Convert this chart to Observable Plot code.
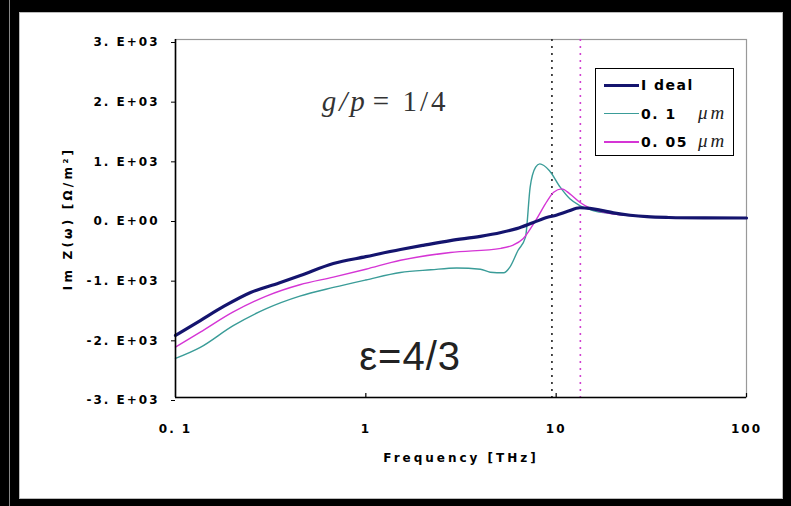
<!DOCTYPE html>
<html><head><meta charset="utf-8">
<script src="https://cdn.jsdelivr.net/npm/d3@7"></script>
<script src="https://cdn.jsdelivr.net/npm/@observablehq/plot@0.6"></script>
<style>
body{margin:0;background:#000;}
#wrap{position:relative;width:791px;height:506px;background:#000;overflow:hidden;}
#edge{position:absolute;left:9px;top:0;width:1px;height:506px;background:#888;}
#panel{position:absolute;left:19px;top:12px;width:762px;height:485px;background:#fff;border:1px solid #bbb;}
#chart{position:absolute;left:0;top:0;}
#legend{position:absolute;left:595px;top:68px;width:139px;height:88px;border:1.5px solid #000;background:#fff;box-sizing:border-box;}
.row{position:absolute;left:0;height:24px;width:150px;}
.row .ln{position:absolute;left:8px;width:35px;}
.row .lb{position:absolute;left:45px;top:3px;font:bold 14px "DejaVu Sans",sans-serif;letter-spacing:1.5px;line-height:18px;white-space:nowrap;}
.row .um{position:absolute;left:102px;top:1px;font:italic 19px "Liberation Serif",serif;letter-spacing:3px;line-height:20px;color:#222;}
</style></head>
<body>
<div id="wrap"><div id="edge"></div><div id="panel"></div><div id="chart"></div><div id="legend"></div></div>
<script>
// ---- data ----
const seriesNames = ["I deal", "0. 1", "0. 05"];
const seriesUnits = ["", "\u03bcm", "\u03bcm"];
const seriesColors = ["#14146e", "#3a9c98", "#d535d5"];
const seriesWidths = [3.2, 1.4, 1.4];

const idealF = [0.1,0.135,0.18,0.248,0.35,0.453,0.675,1.0,1.52,2.0,2.78,4.0,5.13,6.2,7.6,9.0,10,11.5,13.3,15,17,20,24.5,30,39,60,100];
const idealV = [-1960,-1710,-1470,-1240,-1080,-955,-755,-640,-520,-450,-370,-300,-235,-170,-67,20,55,120,180,170,140,95,55,30,17,10,8];

const t01F = [0.1,0.135,0.2,0.3,0.45,0.675,1.0,1.52,2.2,3.0,4.0,4.5,5.3,5.7,6.3,6.9,7.3,7.8,8.2,9.2,10.5,11.8,13.3,15.6,19.9,25,40,60,100];
const t01V = [-2345,-2160,-1800,-1510,-1300,-1155,-1030,-905,-860,-830,-850,-900,-910,-820,-536,-313,525,860,915,805,525,330,218,134,80,45,18,10,8];

const t005F = [0.1,0.135,0.2,0.3,0.45,0.675,1.0,1.52,2.78,5.13,5.9,6.7,7.8,9.0,9.7,10.7,11.8,13.3,15.0,17.8,22,30,40,60,100];
const t005V = [-2155,-1905,-1570,-1300,-1110,-983,-850,-700,-570,-500,-450,-340,-33,300,440,497,413,273,178,105,60,30,17,10,8];

const seriesF = [idealF, t01F, t005F];
const seriesV = [idealV, t01V, t005V];

const yTicks = [3000,2000,1000,0,-1000,-2000,-3000];
const yLabels = ["3. E+03","2. E+03","1. E+03","0. E+00","-1. E+03","-2. E+03","-3. E+03"];
const xTicks = [0.1,1,10,100];
const xLabels = ["0. 1","1","10","100"];

const resF = [9.5, 13.4];
const resColors = ["#222", "#d040d0"];

const xTitle = "Frequency [THz]";
const yTitle = "Im Z(\u03c9) [\u03a9/m\u00b2]";

const gpLeft = "g/p", gpRight = "= 1/4", gpF = 1.05, gpV = 1950;
const epsText = "\u03b5=4/3", epsF = 1.71, epsV = -2330;

// ---- build ----
const rows = seriesNames.flatMap((s, k) => seriesF[k].map((f, i) => ({s, k, f, v: seriesV[k][i]})));
const yMap = new Map(yTicks.map((t, i) => [t, yLabels[i]]));
const xMap = new Map(xTicks.map((t, i) => [t, xLabels[i]]));
const tickFont = "DejaVu Sans, sans-serif";

const lineMarks = [1, 2, 0].map(k => Plot.line(rows.filter(r => r.k === k), {
  x: "f", y: "v", stroke: seriesColors[k], strokeWidth: seriesWidths[k], curve: "monotone-x"
}));

const chart = Plot.plot({
  width: 791, height: 506,
  marginLeft: 175, marginRight: 45, marginTop: 39, marginBottom: 109,
  style: {background: "transparent", overflow: "visible"},
  x: {type: "log", domain: [0.1, 100]},
  y: {domain: [-3000, 3000]},
  marks: [
    Plot.frame({stroke: "#999", strokeWidth: 1.2}),
    Plot.ruleX(resF, {stroke: (d, i) => resColors[i], strokeWidth: 1.6, strokeDasharray: "2,5"}),
    ...lineMarks,
    Plot.ruleX([xTicks[0]], {stroke: "#000", strokeWidth: 1.6}),
    Plot.ruleY([yTicks[yTicks.length - 1]], {stroke: "#000", strokeWidth: 1.6}),
    Plot.tickX(xTicks.slice(1), {insetTop: 354, stroke: "#000", strokeWidth: 1.2}),
    Plot.axisY({ticks: yTicks, tickFormat: d => yMap.get(d), tickSize: 4, tickPadding: 12, dy: 3,
      fontFamily: tickFont, fontWeight: "bold", fontSize: 12, label: null, color: "#000"}),
    Plot.axisX({ticks: xTicks, tickFormat: d => xMap.get(d), tickSize: 0, tickPadding: 27,
      fontFamily: tickFont, fontWeight: "bold", fontSize: 12, label: null, color: "#000"}),
    Plot.text([yTitle], {frameAnchor: "left", dx: -107, rotate: -90, textAnchor: "middle", lineAnchor: "middle",
      fontFamily: tickFont, fontWeight: "bold", fontSize: 12, fill: "#000"}),
    Plot.text([xTitle], {frameAnchor: "bottom", dy: 61, textAnchor: "middle", lineAnchor: "middle",
      fontFamily: tickFont, fontWeight: "bold", fontSize: 12, fill: "#000"}),
    Plot.text([gpLeft], {x: () => gpF, y: () => gpV, textAnchor: "end", dx: -2, fontFamily: "Liberation Serif, serif",
      fontStyle: "italic", fontSize: 29, fill: "#333"}),
    Plot.text([gpRight], {x: () => gpF, y: () => gpV, textAnchor: "start", dx: 3, fontFamily: "Liberation Serif, serif",
      fontSize: 29, fill: "#333"}),
    Plot.text([epsText], {x: () => epsF, y: () => epsV, fontFamily: "Liberation Sans, sans-serif",
      fontSize: 40, fill: "#222"})
  ]
});
document.getElementById("chart").appendChild(chart);

// letter spacing tweaks for text that is spaced out in the original
const spacing = new Map([[xTitle, "3px"], [yTitle, "3.2px"], [gpLeft, "3px"], [gpRight, "3px"], [epsText, "1px"]]);
d3.select(chart).selectAll("text").each(function () {
  const t = this.textContent;
  if (spacing.has(t)) this.style.letterSpacing = spacing.get(t);
  else if (yLabels.includes(t) || xLabels.includes(t)) this.style.letterSpacing = "2px";
});

// ---- legend ----
const legend = document.getElementById("legend");
seriesNames.forEach((s, k) => {
  const row = document.createElement("div");
  row.className = "row";
  row.style.top = (4 + k * 28.5) + "px";
  const ln = document.createElement("div");
  ln.className = "ln";
  ln.style.background = seriesColors[k];
  ln.style.height = (k === 0 ? 3 : 1.5) + "px";
  ln.style.top = (12 - (k === 0 ? 1.5 : 0.75)) + "px";
  row.appendChild(ln);
  const lb = document.createElement("span");
  lb.className = "lb"; lb.textContent = s;
  row.appendChild(lb);
  if (seriesUnits[k]) {
    const um = document.createElement("span");
    um.className = "um"; um.textContent = seriesUnits[k];
    row.appendChild(um);
  }
  legend.appendChild(row);
});
</script>
</body></html>
